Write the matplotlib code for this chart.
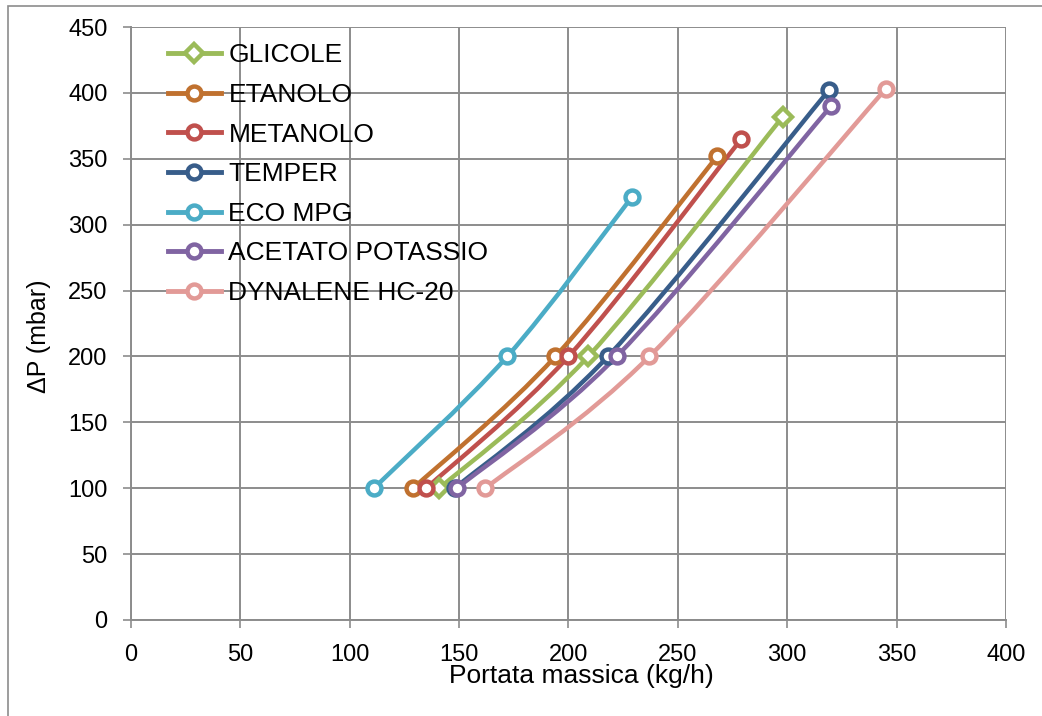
import numpy as np
import matplotlib
matplotlib.use("Agg")
from matplotlib import pyplot as plt
from matplotlib.path import Path
from matplotlib.patches import PathPatch, Rectangle
from matplotlib.lines import Line2D

plt.rcParams['font.family'] = ['Liberation Sans', 'DejaVu Sans']

# pressure drop levels (mbar) and mass flow (kg/h) per fluid
names = ["GLICOLE", "ETANOLO", "METANOLO", "TEMPER", "ECO MPG",
         "ACETATO POTASSIO", "DYNALENE HC-20"]
colors = ["#9bbb59", "#c0712f", "#c0504d", "#385d8a", "#4bacc6",
          "#8064a2", "#e29a97"]
glicole_x = [141, 209, 298]
glicole_y = [100, 200, 382]
etanolo_x = [129, 194, 268]
etanolo_y = [100, 200, 352]
metanolo_x = [135, 200, 279]
metanolo_y = [100, 200, 365]
temper_x = [148, 218, 319]
temper_y = [100, 200, 402]
ecompg_x = [111, 172, 229]
ecompg_y = [100, 200, 321]
acetato_x = [149, 222, 320]
acetato_y = [100, 200, 390]
dynalene_x = [162, 237, 345]
dynalene_y = [100, 200, 403]

series_x = [glicole_x, etanolo_x, metanolo_x, temper_x, ecompg_x, acetato_x, dynalene_x]
series_y = [glicole_y, etanolo_y, metanolo_y, temper_y, ecompg_y, acetato_y, dynalene_y]
markers = ["D", "o", "o", "o", "o", "o", "o"]

fig = plt.figure(figsize=(10.42, 7.16), dpi=100)
# chart frame
fig.patches.append(Rectangle((8 / 1042, -0.1), 1.2, 1 - 6 / 716 + 0.1,
                             transform=fig.transFigure, fill=False,
                             edgecolor="#8c8c8c", linewidth=1.2))
ax = fig.add_axes([131 / 1042, (716 - 620) / 716, 875 / 1042, 593 / 716])
ax.set_xlim(0, 400)
ax.set_ylim(0, 450)
ax.set_xticks(np.arange(0, 401, 50))
ax.set_yticks(np.arange(0, 451, 50))
ax.grid(True, color="#8c8c8c", linewidth=1.4)
ax.set_axisbelow(True)
for s in ["top", "right"]:
    ax.spines[s].set_visible(False)
ax.spines["left"].set_color("#8c8c8c")
ax.spines["bottom"].set_color("#8c8c8c")
ax.spines["left"].set_linewidth(1.4)
ax.spines["bottom"].set_linewidth(1.4)
ax.tick_params(direction="out", length=6, width=1.2, color="#8c8c8c",
               labelsize=17)
ax.tick_params(axis="y", pad=11)
ax.tick_params(axis="x", pad=11)


def smooth_path(xs, ys):
    # Excel-style smoothed line: cubic bezier segments in display space
    pts = ax.transData.transform(np.column_stack([xs, ys]))
    n = len(pts)
    verts = [pts[0]]
    codes = [Path.MOVETO]
    for i in range(n - 1):
        p0 = pts[i - 1] if i > 0 else pts[i]
        p1 = pts[i]
        p2 = pts[i + 1]
        p3 = pts[i + 2] if i + 2 < n else pts[i + 1]
        c1 = p1 + (p2 - p0) / 6
        c2 = p2 - (p3 - p1) / 6
        verts += [c1, c2, p2]
        codes += [Path.CURVE4] * 3
    return Path(verts, codes)


handles = []
for xs, ys, c, m, name in zip(series_x, series_y, colors, markers, names):
    patch = PathPatch(smooth_path(xs, ys), facecolor="none", edgecolor=c,
                      linewidth=3.2, transform=None, capstyle="round",
                      clip_on=False)
    ax.add_artist(patch)
    ms = 9 if m == "D" else 10
    ax.plot(xs, ys, linestyle="none", marker=m, markersize=ms,
            markerfacecolor="white", markeredgecolor=c, markeredgewidth=3.2,
            clip_on=False, zorder=3)
    handles.append(Line2D([], [], color=c, linewidth=3.5, marker=m,
                          markersize=ms, markerfacecolor="white",
                          markeredgecolor=c, markeredgewidth=3.2, label=name))

ax.legend(handles=handles, loc="upper left", bbox_to_anchor=(0.03, 0.99),
          frameon=False, fontsize=19, handlelength=2.0, handletextpad=0.3,
          labelspacing=0.59, borderaxespad=0)

ax.set_xlabel("Portata massica (kg/h)", fontsize=19)
ax.xaxis.set_label_coords(0.515, -0.074)
ax.set_ylabel("ΔP (mbar)", fontsize=18)
ax.yaxis.set_label_coords(-0.092, 0.478)

fig.savefig("out.png", dpi=100)
